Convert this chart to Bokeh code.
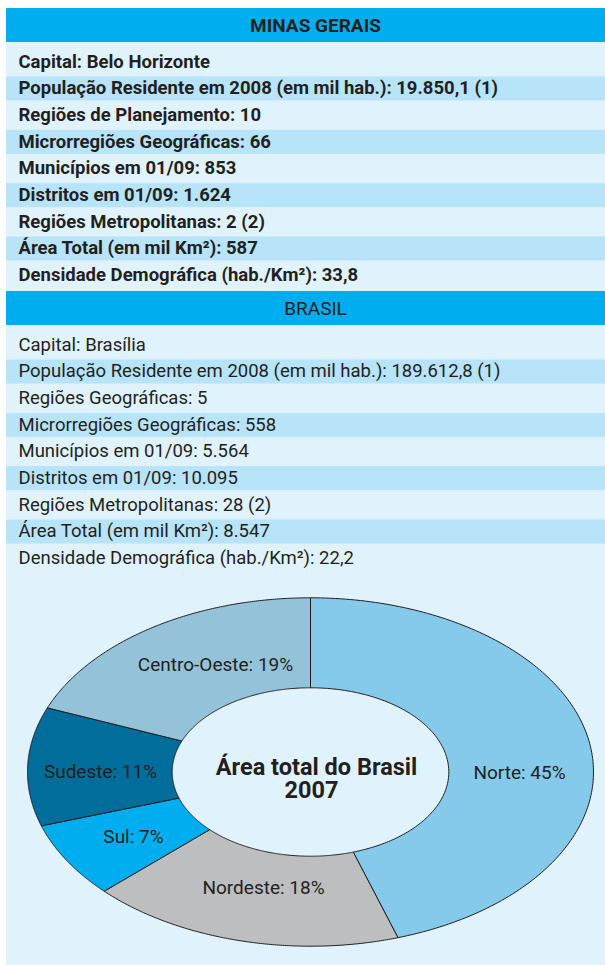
import numpy as np
from bokeh.plotting import figure
from bokeh.models import Range1d
from bokeh.core.properties import value
from bokeh.embed import file_html
from bokeh.resources import INLINE

# ---------------- data ----------------
mg_title = "MINAS GERAIS"
mg_items = ["Capital", "População Residente em 2008 (em mil hab.)",
            "Regiões de Planejamento", "Microrregiões Geográficas",
            "Municípios em 01/09", "Distritos em 01/09",
            "Regiões Metropolitanas", "Área Total (em mil Km²)",
            "Densidade Demográfica (hab./Km²)"]
mg_values = ["Belo Horizonte", "19.850,1 (1)", "10", "66", "853", "1.624",
             "2 (2)", "587", "33,8"]

br_title = "BRASIL"
br_items = ["Capital", "População Residente em 2008 (em mil hab.)",
            "Regiões Geográficas", "Microrregiões Geográficas",
            "Municípios em 01/09", "Distritos em 01/09",
            "Regiões Metropolitanas", "Área Total (em mil Km²)",
            "Densidade Demográfica (hab./Km²)"]
br_values = ["Brasília", "189.612,8 (1)", "5", "558", "5.564", "10.095",
             "28 (2)", "8.547", "22,2"]

regions = ["Norte", "Nordeste", "Sul", "Sudeste", "Centro-Oeste"]
area_share = [45, 18, 7, 11, 19]
donut_title = ["Área total do Brasil", "2007"]

# ---------------- styles / layout ----------------
FONT = value("Roboto")
TXT = "#231F20"
HEADER = "#00AEEF"
LIGHT = "#E0F3FC"
BAND = "#B7E4F9"
slice_colors = ["#85CAEA", "#BCBEC0", "#00AEEF", "#006D9A", "#94C3D9"]
label_pos = [(519, 772), (263, 887), (133, 836), (100, 771), (215, 664)]

W, H = 605, 965
p = figure(width=W, height=H, x_range=Range1d(0, W), y_range=Range1d(H, 0),
           output_backend="svg", toolbar_location=None, min_border=0,
           x_axis_location=None, y_axis_location=None)
p.grid.visible = False
p.outline_line_color = None
p.background_fill_color = "white"
p.border_fill_color = "white"

# light panel
p.quad(left=[6], right=[605], top=[8], bottom=[965], color=LIGHT)

sections = [(8, mg_title, mg_items, mg_values, "bold", "19px", "18.5px"),
            (291, br_title, br_items, br_values, "normal", "19px", "18.5px")]
for top, title, items, vals, style, hsize, rsize in sections:
    p.quad(left=[6], right=[605], top=[top], bottom=[top + 33], color=HEADER)
    p.text(x=[315], y=[top + 17], text=[title], text_align="center",
           text_baseline="middle", text_font=FONT, text_font_size=hsize,
           text_font_style=style, text_color=TXT)
    n = len(items)
    centers = [top + 53.3 + 26.67 * i for i in range(n)]
    odd = [c for i, c in enumerate(centers) if i % 2 == 1]
    p.quad(left=[6] * len(odd), right=[605] * len(odd),
           top=[c - 11.5 for c in odd], bottom=[c + 11.5 for c in odd], color=BAND)
    p.text(x=[18] * n, y=[c for c in centers],
           text=[f"{a}: {b}" for a, b in zip(items, vals)],
           text_align="left", text_baseline="middle", text_font=FONT,
           text_font_size=rsize, text_font_style=style, text_color=TXT)

# donut (elliptical)
cx, cy = 310, 771.5
rxo, ryo, rxi, ryi = 283, 174.2, 138.3, 84.2
frac = np.array(area_share, dtype=float) / sum(area_share)
ends = np.cumsum(frac) * 2 * np.pi
starts = ends - frac * 2 * np.pi
xs, ys = [], []
for a0, a1 in zip(starts, ends):
    t = np.linspace(a0, a1, 160)
    ti = t[::-1]
    xs.append(np.concatenate([cx + rxo * np.sin(t), cx + rxi * np.sin(ti)]).tolist())
    ys.append(np.concatenate([cy - ryo * np.cos(t), cy - ryi * np.cos(ti)]).tolist())
p.patches(xs, ys, fill_color=slice_colors, line_color=TXT, line_width=1)

p.text(x=[q[0] for q in label_pos], y=[q[1] for q in label_pos],
       text=[f"{r}: {v}%" for r, v in zip(regions, area_share)],
       text_align="center", text_baseline="middle", text_font=FONT,
       text_font_size="19px", text_color=TXT)

p.text(x=[316, 311], y=[766, 789], text=donut_title, text_align="center",
       text_baseline="middle", text_font=FONT, text_font_size="23.5px",
       text_font_style="bold", text_color=TXT)

open("out.html", "w").write(file_html(p, INLINE))
